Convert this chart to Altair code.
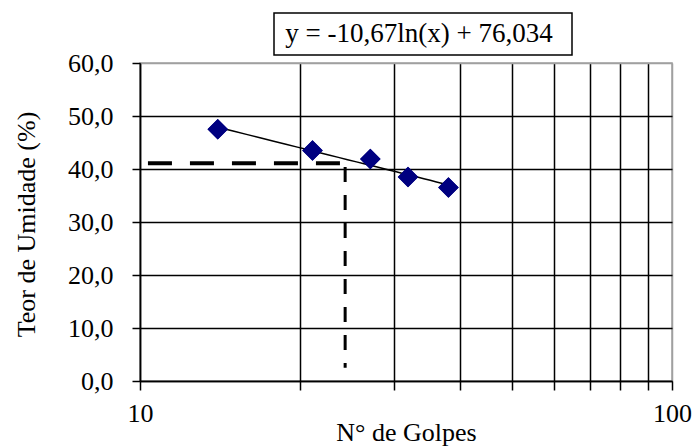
import altair as alt
import pandas as pd

# Data
golpes = [14.0, 21.1, 27.1, 31.9, 38.0]
umidade = [47.5, 43.5, 41.9, 38.5, 36.5]

# Dashed guide lines (liquid limit reading)
h_x = [10.35, 23.8]
h_y = [41.1, 41.1]
v_x = [24.3, 24.3]
v_y = [40.4, 2.5]

equation = ["y = -10,67ln(x) + 76,034"]
x_ticks = [10, 20, 30, 40, 50, 60, 70, 80, 90, 100]
y_ticks = [0, 10, 20, 30, 40, 50, 60]

FONT = "Times New Roman, Liberation Serif, DejaVu Serif, serif"

pts = pd.DataFrame({"golpes": golpes, "umidade": umidade})
hdf = pd.DataFrame({"golpes": h_x, "umidade": h_y, "o": [0, 1]})
vdf = pd.DataFrame({"golpes": v_x, "umidade": v_y, "o": [0, 1]})
eq = pd.DataFrame({"t": equation})

xscale = alt.Scale(type="log", domain=[10, 100], nice=False)
yscale = alt.Scale(domain=[0, 60], nice=False, zero=False)

x_axis = alt.Axis(
    values=x_ticks,
    labelExpr="datum.value == 10 || datum.value == 100 ? datum.value : ''",
    labelOverlap=False, labelFlush=False,
    title="N° de Golpes",
    grid=True,
    gridColor={"condition": {"test": "datum.value >= 100", "value": "#a0a0a0"}, "value": "black"},
    gridWidth=1.5,
    tickColor="black", tickSize=9, tickWidth=1.5,
    domainColor="black", domainWidth=1.5,
    labelFont=FONT, labelFontSize=26, labelColor="black", labelPadding=10,
    titleFont=FONT, titleFontSize=26, titleFontWeight="normal", titleColor="black",
    titleY=59, titleBaseline="alphabetic",
)

y_axis = alt.Axis(
    values=y_ticks,
    labelExpr="replace(format(datum.value, '.1f'), '.', ',')",
    labelOverlap=False, labelFlush=False,
    title="Teor de Umidade (%)",
    grid=True,
    gridColor={"condition": {"test": "datum.value >= 60", "value": "#a0a0a0"}, "value": "black"},
    gridWidth=1.5,
    tickColor="black", tickSize=8, tickWidth=1.5,
    domainColor="black", domainWidth=1.5,
    labelFont=FONT, labelFontSize=26, labelColor="black", labelPadding=19,
    titleFont=FONT, titleFontSize=26, titleFontWeight="normal", titleColor="black",
    titleX=-106, titleY=161, titleAngle=270, titleAlign="center", titleBaseline="alphabetic",
)

base_x = alt.X("golpes:Q", scale=xscale, axis=x_axis)
base_y = alt.Y("umidade:Q", scale=yscale, axis=y_axis)

hline = alt.Chart(hdf).mark_line(color="black", strokeWidth=4, strokeDash=[24, 18]).encode(
    x=alt.X("golpes:Q", scale=xscale), y=alt.Y("umidade:Q", scale=yscale), order="o:Q")
vline = alt.Chart(vdf).mark_line(color="black", strokeWidth=3, strokeDash=[15, 13]).encode(
    x=alt.X("golpes:Q", scale=xscale), y=alt.Y("umidade:Q", scale=yscale), order="o:Q")

trend = alt.Chart(pts).transform_regression(
    "golpes", "umidade", method="log"
).mark_line(color="black", strokeWidth=1.5).encode(
    x=alt.X("golpes:Q", scale=xscale), y=alt.Y("umidade:Q", scale=yscale))

points = alt.Chart(pts).mark_point(shape="diamond", filled=True, size=420, color="#000080", opacity=1).encode(
    x=base_x, y=base_y)

box = alt.Chart(eq).mark_rect(fill="white", stroke="black", strokeWidth=1.5).encode(
    x=alt.value(134), x2=alt.value(432), y=alt.value(-50), y2=alt.value(-8))
label = alt.Chart(eq).mark_text(font=FONT, fontSize=27, color="black", align="center",
                                baseline="alphabetic").encode(
    x=alt.value(279), y=alt.value(-21), text="t:N")

chart = alt.layer(points, hline, vline, trend, points, box, label).properties(
    width=532, height=318,
    padding={"left": 140, "top": 63, "right": 25, "bottom": 67},
    autosize=alt.AutoSizeParams(type="none"),
    background="white",
).configure_view(stroke="#a0a0a0", strokeWidth=1.5)

chart.save("out.html", embed_options={"renderer": "svg", "actions": False})
